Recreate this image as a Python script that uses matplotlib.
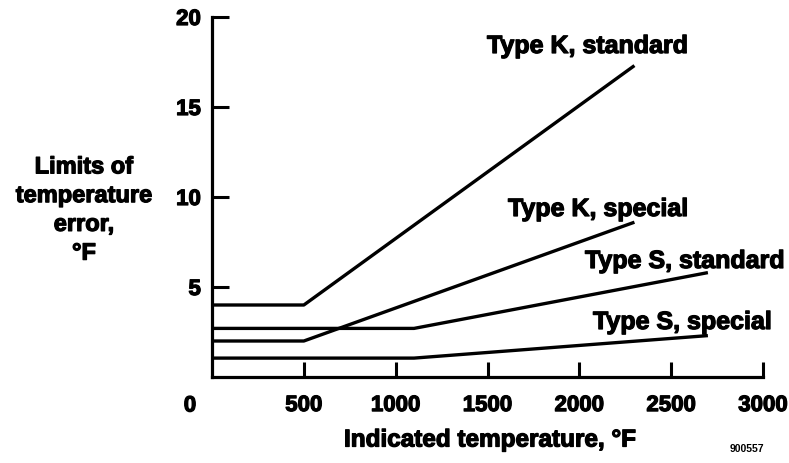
import matplotlib

matplotlib.use("Agg")
import matplotlib.pyplot as plt
import matplotlib.patheffects as pe

# thermocouple tolerance lines: (temperature F, error F)
k_standard_x = [0, 500, 2300]
k_standard_y = [4.0, 4.0, 17.3]
k_special_x = [0, 500, 2300]
k_special_y = [2.0, 2.0, 8.6]
s_standard_x = [0, 1100, 2700]
s_standard_y = [2.7, 2.7, 5.8]
s_special_x = [0, 1100, 2700]
s_special_y = [1.05, 1.05, 2.3]

series_labels = ["Type K, standard", "Type K, special", "Type S, standard", "Type S, special"]
x_ticks = [500, 1000, 1500, 2000, 2500, 3000]
y_ticks = [5, 10, 15, 20]

plt.rcParams["font.family"] = ["Liberation Sans", "DejaVu Sans"]
plt.rcParams["font.weight"] = "bold"

heavy = [pe.withStroke(linewidth=0.9, foreground="black")]

figure = plt.figure(figsize=(7.89, 4.64), dpi=100)
figure.patch.set_facecolor("white")
axis = figure.add_axes([212 / 789, 1 - 378 / 464, (763 - 212) / 789, (378 - 18) / 464])
axis.set_facecolor("white")

line_style = dict(color="black", linewidth=2.4, solid_capstyle="butt", clip_on=False)
axis.plot(k_standard_x, k_standard_y, **line_style)
axis.plot(k_special_x, k_special_y, **line_style)
axis.plot(s_standard_x, s_standard_y, **line_style)
axis.plot(s_special_x, s_special_y, **line_style)

axis.set_xlim(0, 3000)
axis.set_ylim(0, 20)
for side in ("top", "right"):
    axis.spines[side].set_visible(False)
for side in ("left", "bottom"):
    axis.spines[side].set_linewidth(2.3)
    axis.spines[side].set_capstyle("projecting")

axis.set_xticks(x_ticks)
axis.set_yticks(y_ticks)
axis.set_xticklabels([str(v) for v in x_ticks], fontsize=16, fontweight="bold")
axis.set_yticklabels([str(v) for v in y_ticks], fontsize=16, fontweight="bold")
axis.tick_params(axis="x", direction="in", length=11, width=2.2, pad=13)
axis.tick_params(axis="y", direction="in", length=12, width=2.2, pad=8)
for label in axis.get_xticklabels() + axis.get_yticklabels():
    label.set_path_effects(heavy)

# the shared "0" at the origin
figure.text(190 / 789, 1 - 407 / 464, "0", ha="center", va="center", fontsize=16, fontweight="bold",
            path_effects=heavy)

label_spots = [(487, 47), (508, 210), (585, 262), (593, 323)]
for text, (px, py) in zip(series_labels, label_spots):
    figure.text(px / 789, 1 - py / 464, text, ha="left", va="center", fontsize=18, fontweight="bold",
                path_effects=heavy)

figure.text(84 / 789, 1 - 211 / 464, "Limits of\ntemperature\nerror,\n°F", ha="center", va="center",
            fontsize=17, fontweight="bold", linespacing=1.32, path_effects=heavy)
figure.text(490 / 789, 1 - 441 / 464, "Indicated temperature, °F", ha="center", va="center",
            fontsize=17.5, fontweight="bold", path_effects=heavy)
figure.text(747 / 789, 1 - 449 / 464, "900557", ha="center", va="center", fontsize=7.5, fontweight="bold")

figure.savefig("out.png", dpi=100, facecolor="white")
plt.close(figure)
